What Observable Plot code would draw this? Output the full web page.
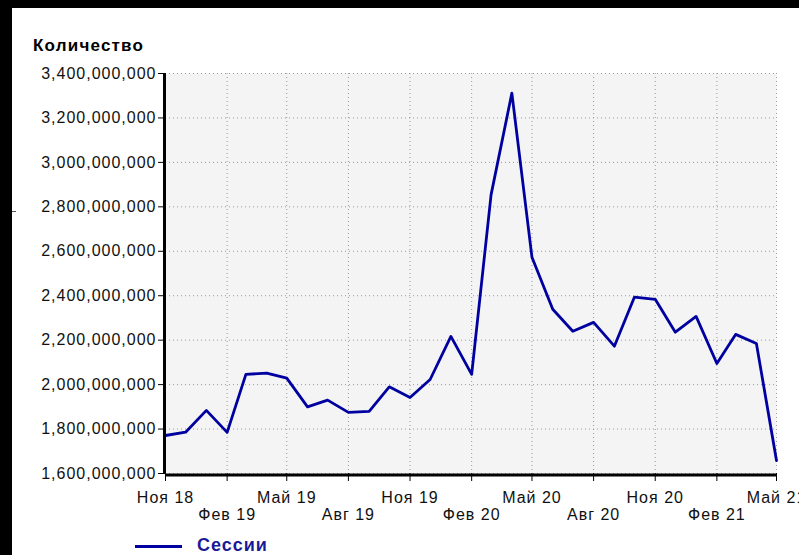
<!DOCTYPE html>
<html>
<head>
<meta charset="utf-8">
<script src="https://cdn.jsdelivr.net/npm/d3@7"></script>
<script src="https://cdn.jsdelivr.net/npm/@observablehq/plot@0.6"></script>
<style>
  html, body { margin: 0; padding: 0; background: #fff; }
  #wrap { position: relative; width: 799px; height: 555px; overflow: hidden; background: #fff; font-family: "Liberation Sans", Arial, sans-serif; }
  #chart { position: absolute; left: 0; top: 0; }
  .band { position: absolute; background: #000; }
  #title { position: absolute; left: 33px; top: 36px; font-size: 17px; font-weight: bold; color: #000; letter-spacing: 1.2px; white-space: nowrap; }
  #legend { position: absolute; left: 135px; top: 535px; height: 20px; white-space: nowrap; }
  #legend .swatch { position: absolute; left: 0; top: 10px; width: 47px; height: 3px; background: #0000a0; }
  #legend .lbl { position: absolute; left: 62px; top: 0px; font-size: 18px; font-weight: bold; color: #1a1a96; letter-spacing: 1px; }
</style>
</head>
<body>
<div id="wrap">
  <div id="chart"></div>
  <div class="band" style="left:0;top:0;width:799px;height:8px;"></div>
  <div class="band" style="left:0;top:0;width:12px;height:555px;"></div>
  <div style="position:absolute;left:12px;top:211px;width:4px;height:1px;background:#555;"></div>
  <div id="title">Количество</div>
  <div id="legend"><div class="swatch"></div><div class="lbl">Сессии</div></div>
</div>
<script>
// Data
const months = [
  "2018-11","2018-12","2019-01","2019-02","2019-03","2019-04","2019-05","2019-06","2019-07","2019-08",
  "2019-09","2019-10","2019-11","2019-12","2020-01","2020-02","2020-03","2020-04","2020-05","2020-06",
  "2020-07","2020-08","2020-09","2020-10","2020-11","2020-12","2021-01","2021-02","2021-03","2021-04","2021-05"
];
const sessions = [
  1771e6, 1786e6, 1884e6, 1785e6, 2046e6, 2052e6, 2029e6, 1900e6, 1930e6, 1875e6,
  1880e6, 1990e6, 1942e6, 2023e6, 2217e6, 2046e6, 2855e6, 3312e6, 2573e6, 2339e6,
  2240e6, 2280e6, 2173e6, 2394e6, 2384e6, 2236e6, 2307e6, 2095e6, 2226e6, 2185e6, 1658e6
];
const tickMonths = ["2018-11","2019-02","2019-05","2019-08","2019-11","2020-02","2020-05","2020-08","2020-11","2021-02","2021-05"];
const tickLabels = ["Ноя 18","Фев 19","Май 19","Авг 19","Ноя 19","Фев 20","Май 20","Авг 20","Ноя 20","Фев 21","Май 21"];
const yTicks = [1.6e9, 1.8e9, 2.0e9, 2.2e9, 2.4e9, 2.6e9, 2.8e9, 3.0e9, 3.2e9, 3.4e9];
const seriesName = "Сессии";

const parse = s => new Date(s + "-01T00:00:00Z");
const data = months.map((m, i) => ({date: parse(m), value: sessions[i]}));
const tickDates = tickMonths.map(parse);
const labelOf = new Map(tickDates.map((d, i) => [d.getTime(), tickLabels[i]]));
const topRow = tickDates.filter((d, i) => i % 2 === 0);
const bottomRow = tickDates.filter((d, i) => i % 2 === 1);
const fmt = d => labelOf.get(d.getTime()) ?? "";
const grid = {stroke: "#999", strokeOpacity: 1, strokeDasharray: "1,3", strokeWidth: 1};

const chart = Plot.plot({
  width: 799,
  height: 555,
  marginLeft: 165,
  marginRight: 23,
  marginTop: 73,
  marginBottom: 82,
  style: {background: "transparent", fontFamily: "'Liberation Sans', Arial, sans-serif", fontSize: "16px", color: "#111", letterSpacing: "1px"},
  x: {type: "utc", domain: [tickDates[0], tickDates[tickDates.length - 1]], axis: null},
  y: {domain: [yTicks[0], yTicks[yTicks.length - 1]], axis: null},
  marks: [
    Plot.frame({fill: "#f4f4f4", stroke: null}),
    Plot.gridX(tickDates, grid),
    Plot.gridY(yTicks, grid),
    Plot.line(data, {x: "date", y: "value", stroke: "#0000a0", strokeWidth: 2.8}),
    Plot.axisY({ticks: yTicks, tickSize: 7, tickPadding: 2, tickFormat: d3.format(","), stroke: "#000", label: null}),
    Plot.axisX({ticks: tickDates, tickSize: 8, tickFormat: () => "", stroke: "#000", label: null}),
    Plot.axisX({ticks: topRow, tickSize: 0, tickPadding: 18, tickFormat: fmt, label: null}),
    Plot.axisX({ticks: bottomRow, tickSize: 0, tickPadding: 35, tickFormat: fmt, label: null}),
    Plot.ruleX([tickDates[0]], {stroke: "#000", strokeWidth: 3, dx: -1}),
    Plot.ruleY([yTicks[0]], {stroke: "#000", strokeWidth: 3, dy: 1.5})
  ]
});
document.getElementById("chart").appendChild(chart);
</script>
</body>
</html>
